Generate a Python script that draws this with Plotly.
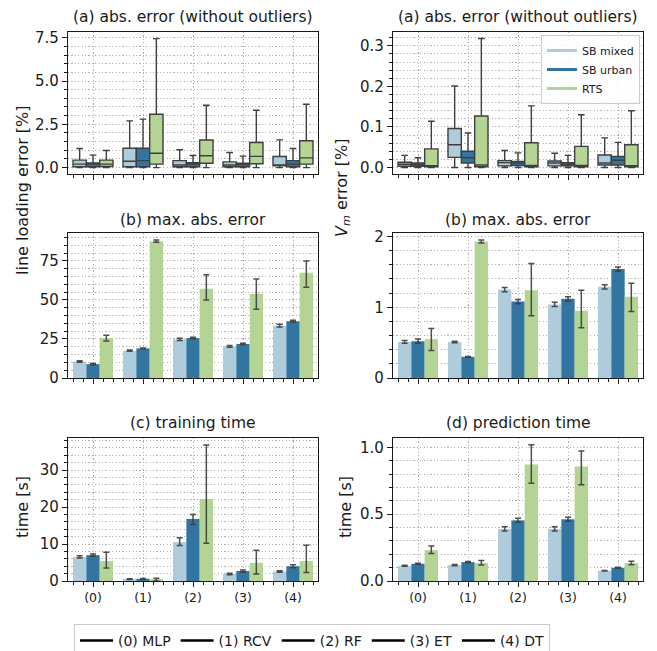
import plotly.graph_objects as go
from plotly.subplots import make_subplots

# ---------------- data ----------------
series = ["SB mixed", "SB urban", "RTS"]
models = ["(0) MLP", "(1) RCV", "(2) RF", "(3) ET", "(4) DT"]
tick_labels = ["(0)", "(1)", "(2)", "(3)", "(4)"]
xpos = [0, 1, 2, 3, 4]

# (a) line loading abs. error box statistics [%]
load_q1 = {"SB mixed": [0.05, 0.05, 0.05, 0.05, 0.10],
           "SB urban": [0.05, 0.05, 0.05, 0.05, 0.05],
           "RTS": [0.06, 0.20, 0.25, 0.22, 0.20]}
load_med = {"SB mixed": [0.20, 0.37, 0.15, 0.15, 0.15],
            "SB urban": [0.20, 0.40, 0.20, 0.18, 0.20],
            "RTS": [0.20, 0.83, 0.68, 0.65, 0.56]}
load_q3 = {"SB mixed": [0.43, 1.12, 0.40, 0.33, 0.64],
           "SB urban": [0.27, 1.12, 0.28, 0.25, 0.40],
           "RTS": [0.43, 3.08, 1.59, 1.45, 1.55]}
load_lo = {"SB mixed": [0, 0, 0, 0, 0],
           "SB urban": [0, 0, 0, 0, 0],
           "RTS": [0, 0, 0, 0, 0]}
load_hi = {"SB mixed": [1.10, 2.70, 1.03, 0.87, 1.60],
           "SB urban": [0.72, 2.80, 0.70, 0.66, 1.10],
           "RTS": [0.99, 7.45, 3.60, 3.31, 3.66]}

# (a) V_m abs. error box statistics [%]
vm_q1 = {"SB mixed": [0.003, 0.025, 0.004, 0.004, 0.006],
         "SB urban": [0.003, 0.011, 0.005, 0.004, 0.006],
         "RTS": [0.002, 0.002, 0.002, 0.002, 0.002]}
vm_med = {"SB mixed": [0.008, 0.056, 0.012, 0.011, 0.011],
          "SB urban": [0.007, 0.024, 0.011, 0.008, 0.018],
          "RTS": [0.004, 0.006, 0.005, 0.005, 0.004]}
vm_q3 = {"SB mixed": [0.013, 0.096, 0.017, 0.016, 0.031],
         "SB urban": [0.011, 0.040, 0.015, 0.012, 0.027],
         "RTS": [0.046, 0.127, 0.061, 0.052, 0.056]}
vm_lo = {"SB mixed": [0, 0, 0, 0, 0],
         "SB urban": [0, 0, 0, 0, 0],
         "RTS": [0, 0, 0, 0, 0]}
vm_hi = {"SB mixed": [0.030, 0.201, 0.042, 0.035, 0.073],
         "SB urban": [0.024, 0.085, 0.036, 0.030, 0.062],
         "RTS": [0.114, 0.318, 0.152, 0.130, 0.140]}

# (b) max. abs. error, line loading [%]
loadmax_mean = {"SB mixed": [10.6, 17.5, 24.8, 20.3, 33.5],
                "SB urban": [8.9, 19.0, 25.6, 21.8, 36.4],
                "RTS": [25.6, 87.6, 57.2, 53.9, 67.4]}
loadmax_lo = {"SB mixed": [10.1, 17.1, 24.1, 19.7, 32.6],
              "SB urban": [8.5, 18.7, 25.1, 21.4, 35.8],
              "RTS": [23.7, 86.9, 50.0, 44.1, 58.2]}
loadmax_hi = {"SB mixed": [11.1, 17.9, 25.5, 20.9, 34.4],
              "SB urban": [9.3, 19.3, 26.1, 22.2, 37.0],
              "RTS": [27.4, 88.4, 66.2, 63.5, 74.9]}

# (b) max. abs. error, V_m [%]
vmmax_mean = {"SB mixed": [0.51, 0.51, 1.25, 1.04, 1.29],
              "SB urban": [0.52, 0.30, 1.08, 1.12, 1.54],
              "RTS": [0.55, 1.93, 1.24, 0.95, 1.15]}
vmmax_lo = {"SB mixed": [0.49, 0.50, 1.22, 1.01, 1.26],
            "SB urban": [0.49, 0.295, 1.05, 1.09, 1.51],
            "RTS": [0.39, 1.91, 0.88, 0.71, 0.94]}
vmmax_hi = {"SB mixed": [0.53, 0.52, 1.28, 1.07, 1.32],
            "SB urban": [0.55, 0.305, 1.11, 1.15, 1.57],
            "RTS": [0.70, 1.95, 1.62, 1.24, 1.34]}

# (c) training time [s]
train_mean = {"SB mixed": [6.5, 0.5, 10.5, 1.9, 2.6],
              "SB urban": [7.0, 0.6, 16.8, 2.7, 4.0],
              "RTS": [5.4, 0.35, 22.2, 4.9, 5.4]}
train_lo = {"SB mixed": [6.2, 0.4, 9.6, 1.7, 2.4],
            "SB urban": [6.7, 0.5, 15.3, 2.4, 3.6],
            "RTS": [3.5, 0.0, 10.2, 1.9, 2.3]}
train_hi = {"SB mixed": [6.8, 0.6, 11.7, 2.1, 2.8],
            "SB urban": [7.3, 0.7, 18.0, 3.0, 4.4],
            "RTS": [7.8, 0.75, 36.8, 8.3, 9.7]}

# (d) prediction time [s]
pred_mean = {"SB mixed": [0.114, 0.119, 0.390, 0.390, 0.077],
             "SB urban": [0.129, 0.141, 0.454, 0.462, 0.099],
             "RTS": [0.231, 0.134, 0.871, 0.856, 0.134]}
pred_lo = {"SB mixed": [0.111, 0.114, 0.375, 0.375, 0.075],
           "SB urban": [0.125, 0.136, 0.439, 0.447, 0.096],
           "RTS": [0.205, 0.120, 0.732, 0.720, 0.122]}
pred_hi = {"SB mixed": [0.117, 0.124, 0.405, 0.405, 0.079],
           "SB urban": [0.133, 0.146, 0.469, 0.477, 0.102],
           "RTS": [0.262, 0.153, 1.020, 0.973, 0.147]}

# ---------------- styling ----------------
colors = {"SB mixed": "#aeccdb", "SB urban": "#3275a1", "RTS": "#b3d495"}
edge = "#3f3f3f"
errc = "rgba(60,60,60,0.9)"
FONT = "DejaVu Sans"
W, H = 657, 651

fig = make_subplots(rows=3, cols=2)

for s in series:
    fig.add_trace(go.Box(x=xpos, q1=load_q1[s], median=load_med[s], q3=load_q3[s],
                         lowerfence=load_lo[s], upperfence=load_hi[s],
                         name=s, offsetgroup=s, fillcolor=colors[s],
                         line=dict(color=edge, width=1.4), boxpoints=False,
                         whiskerwidth=0.5, showlegend=False), row=1, col=1)
    fig.add_trace(go.Box(x=xpos, q1=vm_q1[s], median=vm_med[s], q3=vm_q3[s],
                         lowerfence=vm_lo[s], upperfence=vm_hi[s],
                         name=s, offsetgroup=s, fillcolor=colors[s],
                         line=dict(color=edge, width=1.4), boxpoints=False,
                         whiskerwidth=0.5, showlegend=False), row=1, col=2)


def add_bars(mean, lo, hi, row, col):
    for s in series:
        up = [h - m for h, m in zip(hi[s], mean[s])]
        dn = [m - l for m, l in zip(mean[s], lo[s])]
        fig.add_trace(go.Bar(x=xpos, y=mean[s], name=s, offsetgroup=s,
                             marker=dict(color=colors[s], line=dict(width=0)),
                             error_y=dict(type="data", symmetric=False, array=up,
                                          arrayminus=dn, color=errc,
                                          thickness=1.5, width=3),
                             showlegend=False), row=row, col=col)


add_bars(loadmax_mean, loadmax_lo, loadmax_hi, 2, 1)
add_bars(vmmax_mean, vmmax_lo, vmmax_hi, 2, 2)
add_bars(train_mean, train_lo, train_hi, 3, 1)
add_bars(pred_mean, pred_lo, pred_hi, 3, 2)

# legend entries: series colours (legend2) and model names (legend)
for s in series:
    fig.add_trace(go.Scatter(x=[None], y=[None], mode="lines", name=s,
                             line=dict(color=colors[s], width=3),
                             legend="legend2", showlegend=True))
for m in models:
    fig.add_trace(go.Scatter(x=[None], y=[None], mode="lines", name=m,
                             line=dict(color="black", width=2.5),
                             legend="legend", showlegend=True))

# ---------------- layout ----------------
xL = [68 / W, 318 / W]
xR = [393 / W, 643 / W]
rows_dom = [[1 - 174 / H, 1 - 32 / H], [1 - 378 / H, 1 - 233 / H], [1 - 581 / H, 1 - 438 / H]]

yspecs = {
    (1, 1): dict(range=[-0.37, 7.83], dtick=2.5, minor=0.5, fmt=".1f"),
    (1, 2): dict(range=[-0.016, 0.334], dtick=0.1, minor=0.02, fmt=".1f"),
    (2, 1): dict(range=[0, 92.9], dtick=25, minor=5, fmt=""),
    (2, 2): dict(range=[0, 2.05], dtick=1, minor=0.2, fmt=""),
    (3, 1): dict(range=[0, 38.7], dtick=10, minor=2, fmt=""),
    (3, 2): dict(range=[0, 1.07], dtick=0.5, minor=0.1, fmt=".1f"),
}

grid = "#b0b0b0"
gdash = "1.2px,2.2px"
axcol = "#1a1a1a"
idx = 0
for r in range(1, 4):
    for c in range(1, 3):
        idx += 1
        sp = yspecs[(r, c)]
        xname = "xaxis" if idx == 1 else f"xaxis{idx}"
        yname = "yaxis" if idx == 1 else f"yaxis{idx}"
        fig.layout[xname].update(
            domain=xL if c == 1 else xR, range=[-0.5, 4.5],
            tickmode="array", tickvals=xpos, ticktext=tick_labels,
            showticklabels=(r == 3), automargin=False,
            showgrid=True, gridcolor=grid, griddash=gdash, gridwidth=0.9,
            zeroline=False, showline=True, mirror=True, linecolor=axcol, linewidth=1.2,
            ticks="outside", ticklen=5, tickwidth=1.1, tickcolor=axcol,
            minor=dict(tick0=0, dtick=0.2, ticks="outside", ticklen=3, tickwidth=0.9,
                       tickcolor=axcol, showgrid=False),
            tickfont=dict(size=12.5))
        fig.layout[yname].update(
            domain=rows_dom[r - 1], range=sp["range"], tickmode="linear", tick0=0,
            dtick=sp["dtick"], tickformat=sp["fmt"], automargin=False,
            showgrid=True, gridcolor=grid, griddash=gdash, gridwidth=0.9,
            zeroline=False, showline=True, mirror=True, linecolor=axcol, linewidth=1.2,
            ticks="outside", ticklen=5, tickwidth=1.1, tickcolor=axcol,
            minor=dict(tick0=0, dtick=sp["minor"], ticks="outside", ticklen=3,
                       tickwidth=0.9, tickcolor=axcol, showgrid=True,
                       gridcolor=grid, griddash=gdash, gridwidth=0.9),
            tickfont=dict(size=15))

TSIZE = 15.5
titles = [("(a) abs. error (without outliers)", "(a) abs. error (without outliers)", 17),
          ("(b) max. abs. error", "(b) max. abs. error", 220),
          ("(c) training time", "(d) prediction time", 423)]
ann = []
for tl, tr, yp in titles:
    for t, dom in ((tl, xL), (tr, xR)):
        ann.append(dict(text=t, x=(dom[0] + dom[1]) / 2, y=1 - yp / H, xref="paper",
                        yref="paper", showarrow=False, font=dict(size=TSIZE),
                        xanchor="center", yanchor="middle"))
ylabels = [("line loading error [%]", 22, 190),
           ("<i>V</i><sub><i>m</i></sub> error [%]", 343, 188),
           ("time [s]", 22, 507), ("time [s]", 345, 507)]
for t, xp, yp in ylabels:
    ann.append(dict(text=t, x=xp / W, y=1 - yp / H, xref="paper", yref="paper",
                    showarrow=False, textangle=-90, font=dict(size=16),
                    xanchor="center", yanchor="middle"))

fig.update_layout(
    width=W, height=H, autosize=False,
    margin=dict(l=0, r=0, t=0, b=0, autoexpand=False),
    paper_bgcolor="white", plot_bgcolor="white",
    font=dict(family=FONT, size=14, color="#1a1a1a"),
    barmode="group", bargap=0.2, bargroupgap=0,
    boxmode="group", boxgap=0.2, boxgroupgap=0,
    annotations=ann,
    legend=dict(orientation="h", x=74 / W, xanchor="left", y=1 - 624 / H,
                yanchor="top", bordercolor="#cccccc", borderwidth=1, bgcolor="white",
                font=dict(size=14), itemwidth=33),
    legend2=dict(x=640 / W, xanchor="right", y=1 - 35 / H, yanchor="top",
                 bordercolor="#cccccc", borderwidth=1,
                 bgcolor="rgba(255,255,255,0.85)", font=dict(size=11),
                 itemwidth=30, tracegroupgap=0),
)

fig.write_html("out.html", config={"displayModeBar": False},
               post_script="document.body.style.margin='0';"
                           "document.body.style.padding='0';"
                           "document.body.style.overflow='hidden';")
